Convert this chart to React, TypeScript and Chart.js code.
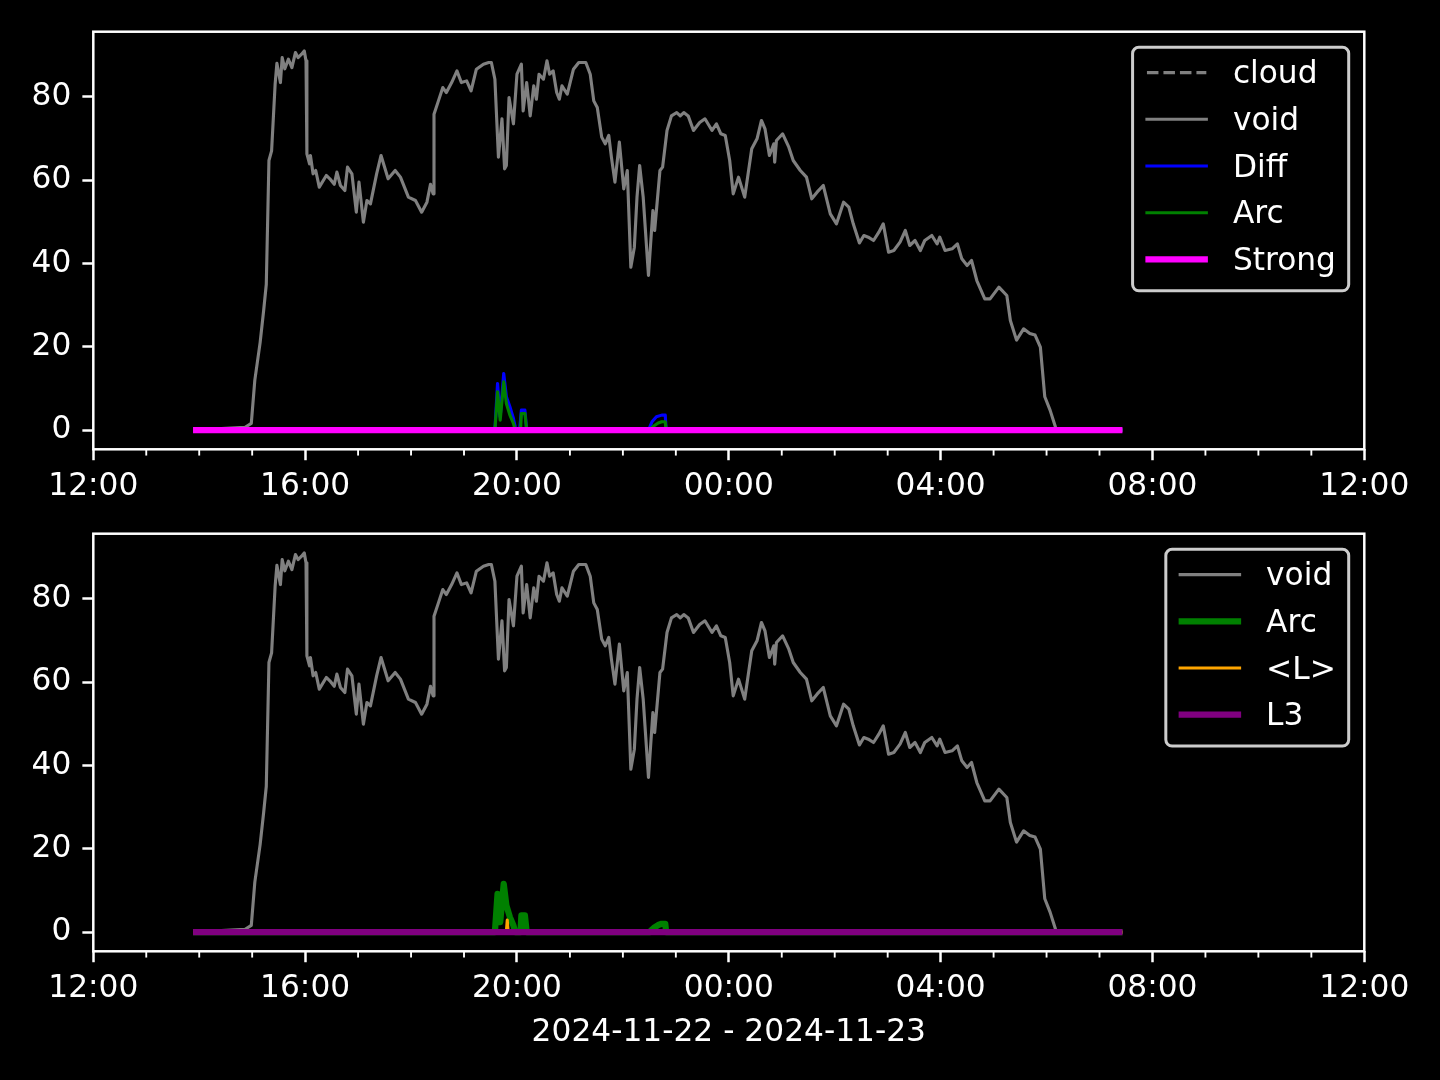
import React, { useEffect, useRef } from "react";
import { Chart, registerables } from "chart.js";

Chart.register(...registerables);

const FONT = "DejaVu Sans";
const FS = 31.25;

// ---------- data ----------
const voidTimes = [
  "13:53","14:52","14:59","15:03","15:09","15:13","15:16","15:19","15:22","15:26",
  "15:28","15:32","15:34","15:37","15:41","15:45","15:49","15:52","15:56","15:59",
  "16:01","16:02","16:05","16:06","16:09","16:12","16:16","16:24","16:28","16:33",
  "16:36","16:40","16:45","16:48","16:53","16:58","17:01","17:06","17:10","17:14",
  "17:21","17:26","17:34","17:42","17:48","17:57","18:05","18:12","18:18","18:22",
  "18:25","18:26","18:31","18:36","18:40","18:46","18:52","18:57","19:03","19:08",
  "19:14","19:22","19:28","19:31","19:35","19:39","19:43","19:46","19:48","19:51",
  "19:56","20:00","20:05","20:07","20:11","20:15","20:19","20:22","20:25","20:30",
  "20:34","20:37","20:41","20:45","20:48","20:51","20:57","21:04","21:10","21:18",
  "21:23","21:27","21:31","21:36","21:40","21:44","21:47","21:51","21:56","22:01",
  "22:05","22:09","22:13","22:16","22:19","22:23","22:29","22:34","22:36","22:42",
  "22:45","22:50","22:55","23:01","23:05","23:09","23:14","23:20","23:27","23:33",
  "23:41","23:46","23:51","23:56","00:01","00:05","00:11","00:18","00:26","00:32",
  "00:37","00:41","00:46","00:51","00:52","00:54","01:01","01:08","01:13","01:21",
  "01:28","01:34","01:40","01:47","01:55","02:02","02:10","02:16","02:21","02:28",
  "02:33","02:38","02:44","02:50","02:55","03:01","03:07","03:14","03:20","03:25",
  "03:31","03:37","03:42","03:50","03:56","03:59","04:05","04:13","04:19","04:24",
  "04:30","04:35","04:41","04:50","04:56","05:06","05:15","05:19","05:26","05:34",
  "05:41","05:47","05:53","05:58","06:04","06:10","06:11","07:26",
];
const voidValues = [
  0, 0.7, 1.6, 12, 21, 28.7, 35, 64.7, 67, 83,
  88, 83.4, 89.4, 86.7, 89, 87, 90.6, 89.4, 90.2, 91,
  88.6, 66.3, 63.9, 65.9, 61.5, 62.3, 58.3, 61.1, 60.3, 59,
  61.9, 58.7, 57.5, 63.1, 61.5, 52.3, 59.5, 49.9, 55.1, 54.3,
  61.5, 65.9, 60.3, 62.3, 60.7, 55.9, 55.1, 52.3, 54.7, 59,
  56.7, 75.8, 79, 82.2, 81, 83.4, 86.2, 83.4, 83.8, 81.4,
  86.6, 87.8, 88.2, 88.2, 84.2, 65.5, 74.7, 62.7, 63.5, 79.8,
  73.5, 85.4, 87.8, 76.6, 83.4, 75.4, 82.6, 79.4, 85.4, 84.2,
  88.6, 85.4, 86.2, 81, 79.4, 82.6, 80.6, 86.6, 88.2, 88.2,
  85.4, 79, 77.4, 70.3, 68.7, 70.7, 65.5, 59.5, 69.1, 57.9,
  62.3, 39.1, 43.9, 55.9, 63.5, 55.9, 37.1, 52.7, 47.9, 62.3,
  63.1, 71.9, 75.4, 76.2, 75.4, 76.2, 75.4, 71.9, 73.8, 74.7,
  71.9, 73.5, 71.1, 70.7, 64.7, 56.7, 60.7, 55.9, 67.5, 69.9,
  74.3, 72.3, 65.9, 68.7, 64.3, 69.5, 71.1, 67.9, 64.7, 62.3,
  60.7, 55.5, 57.1, 58.7, 51.9, 49.5, 54.7, 53.5, 49.5, 44.9,
  46.7, 46.3, 45.5, 47.5, 49.5, 42.7, 43.1, 45.1, 47.9, 44.3,
  45.5, 43.1, 45.5, 46.7, 44.7, 46.3, 43.1, 43.5, 44.7, 41.1,
  39.5, 40.7, 35.9, 31.5, 31.5, 34.3, 32.3, 26.3, 21.6, 24.3,
  23.2, 22.8, 19.9, 8, 4.8, 0.8, 0, 0,
];

const diffTimes = ["13:53","19:35","19:38","19:41","19:45","19:48","19:52","19:56","19:58","19:59","20:03","20:05","20:09","20:11","22:29","22:33","22:38","22:44","22:48","22:49","07:26"];
const diffValues = [0, 0, 11.2, 3.2, 13.6, 8, 5.6, 2.8, 0.8, 0, 0, 4.8, 4.8, 0, 0, 2, 3.2, 3.6, 3.6, 0, 0];

const arcTimes = ["13:53","19:35","19:38","19:41","19:45","19:48","19:52","19:56","19:58","20:04","20:05","20:09","20:11","22:30","22:35","22:40","22:44","22:48","22:49","07:26"];
const arcValues = [0, 0, 9.2, 2.4, 11.6, 6.4, 3.6, 1.6, 0, 0, 4, 4, 0, 0, 1, 1.7, 2, 2, 0, 0];

const lTimes = ["13:53","19:48","19:49","19:50","07:26"];
const lValues = [0, 0, 2.9, 0, 0];

const strongTimes = ["13:53","07:26"];
const strongValues = [0, 0];

const l3Times = ["13:53","07:26"];
const l3Values = [0, 0];

const cloudTimes: string[] = [];
const cloudValues: number[] = [];

const yTickValues = [0, 20, 40, 60, 80];
const xLabel = "2024-11-22 - 2024-11-23";

// ---------- helpers ----------
function toHours(t: string) {
  const [h, m] = t.split(":").map(Number);
  return (h >= 12 ? h - 12 : h + 12) + m / 60;
}
function pts(times: string[], values: number[]) {
  return times.map((t, i) => ({ x: toHours(t), y: values[i] }));
}
function fmtTick(v: number) {
  const h = (12 + Math.round(v)) % 24;
  return (h < 10 ? "0" : "") + h + ":00";
}

const mplPlugin = {
  id: "mplDecor",
  afterDraw(chart: any) {
    const ctx = chart.ctx;
    const { left, right, top, bottom } = chart.chartArea;
    const xs = chart.scales.x;
    ctx.save();
    // minor ticks
    ctx.strokeStyle = "#ffffff";
    ctx.lineWidth = 1.875;
    for (let h = 0; h <= 24; h++) {
      if (h % 4 === 0) continue;
      const px = xs.getPixelForValue(h);
      ctx.beginPath();
      ctx.moveTo(px, bottom);
      ctx.lineTo(px, bottom + 6.25);
      ctx.stroke();
    }
    // spines
    ctx.lineWidth = 2.5;
    ctx.strokeRect(left, top, right - left, bottom - top);

    // legend
    const ds = chart.data.datasets;
    ctx.font = `${FS}px "${FONT}"`;
    const pad = 12.8;
    const handleLen = 62.5;
    const textPad = 25;
    const rowH = 31.1;
    const spacing = 15.6;
    let maxW = 0;
    ds.forEach((d: any) => {
      maxW = Math.max(maxW, ctx.measureText(d.label).width);
    });
    const w = pad * 2 + handleLen + textPad + maxW;
    const h = pad * 2 + ds.length * rowH + (ds.length - 1) * spacing;
    const bx = right - 15.6 - w;
    const by = top + 15.6;
    const r = 6.25;
    ctx.beginPath();
    ctx.moveTo(bx + r, by);
    ctx.lineTo(bx + w - r, by);
    ctx.arcTo(bx + w, by, bx + w, by + r, r);
    ctx.lineTo(bx + w, by + h - r);
    ctx.arcTo(bx + w, by + h, bx + w - r, by + h, r);
    ctx.lineTo(bx + r, by + h);
    ctx.arcTo(bx, by + h, bx, by + h - r, r);
    ctx.lineTo(bx, by + r);
    ctx.arcTo(bx, by, bx + r, by, r);
    ctx.closePath();
    ctx.fillStyle = "rgba(0,0,0,0.8)";
    ctx.fill();
    ctx.strokeStyle = "rgba(255,255,255,0.8)";
    ctx.lineWidth = 3;
    ctx.stroke();

    ds.forEach((d: any, i: number) => {
      const rowTop = by + pad + i * (rowH + spacing);
      const ly = rowTop + 12.5;
      ctx.beginPath();
      ctx.strokeStyle = d.borderColor;
      ctx.lineWidth = d.borderWidth;
      ctx.setLineDash(d.borderDash || []);
      ctx.lineCap = d.borderDash && d.borderDash.length ? "butt" : "square";
      const hx0 = bx + pad + d.borderWidth / 2;
      const hx1 = bx + pad + handleLen - d.borderWidth / 2;
      ctx.moveTo(hx0, ly);
      ctx.lineTo(hx1, ly);
      ctx.stroke();
      ctx.setLineDash([]);
      ctx.fillStyle = "#ffffff";
      ctx.textBaseline = "alphabetic";
      ctx.textAlign = "left";
      ctx.fillText(d.label, bx + pad + handleLen + textPad, rowTop + 23.2);
    });
    ctx.restore();
  },
};

function lineDs(label: string, data: any[], color: string, width: number, order: number, dash?: number[]) {
  return {
    label,
    data,
    borderColor: color,
    backgroundColor: color,
    borderWidth: width,
    borderDash: dash || [],
    borderJoinStyle: "round",
    pointRadius: 0,
    pointHoverRadius: 0,
    tension: 0,
    fill: false,
    order,
  };
}

function makeOptions(topPad: number, xHeight: number, withTitle: boolean) {
  const tickFont = { family: FONT, size: FS };
  return {
    responsive: false,
    animation: false,
    events: [],
    devicePixelRatio: 1,
    layout: { padding: { top: topPad, right: 75.7, left: 0, bottom: 0 } },
    plugins: { legend: { display: false }, tooltip: { enabled: false }, title: { display: false } },
    scales: {
      x: {
        type: "linear",
        min: 0,
        max: 24,
        afterFit: (s: any) => { s.height = xHeight; },
        grid: { drawOnChartArea: false, drawTicks: true, tickLength: 10.94, tickColor: "#ffffff", tickWidth: 2.5 },
        border: { display: false },
        ticks: {
          stepSize: 4,
          autoSkip: false,
          maxRotation: 0,
          minRotation: 0,
          includeBounds: false,
          padding: 8,
          color: "#ffffff",
          font: tickFont,
          callback: (v: any) => fmtTick(Number(v)),
        },
        title: withTitle
          ? { display: true, text: xLabel, color: "#ffffff", font: tickFont, padding: { top: 0, bottom: 28 } }
          : { display: false },
      },
      y: {
        type: "linear",
        min: -4.6,
        max: 95.6,
        afterFit: (s: any) => { s.width = 93.3; },
        afterBuildTicks: (s: any) => { s.ticks = yTickValues.map((v) => ({ value: v })); },
        grid: { drawOnChartArea: false, drawTicks: true, tickLength: 10.94, tickColor: "#ffffff", tickWidth: 2.5 },
        border: { display: false },
        ticks: {
          includeBounds: false,
          padding: 11,
          color: "#ffffff",
          font: tickFont,
          callback: (v: any) => String(v),
        },
      },
    },
  };
}

export default function App() {
  const topRef = useRef<HTMLCanvasElement>(null);
  const botRef = useRef<HTMLCanvasElement>(null);

  useEffect(() => {
    const c1 = new Chart(topRef.current as HTMLCanvasElement, {
      type: "line",
      data: {
        datasets: [
          lineDs("cloud", pts(cloudTimes, cloudValues), "#808080", 3.125, 5, [11.5, 5]),
          lineDs("void", pts(voidTimes, voidValues), "#808080", 3.125, 4),
          lineDs("Diff", pts(diffTimes, diffValues), "#0000ff", 3.125, 3),
          lineDs("Arc", pts(arcTimes, arcValues), "#008000", 3.125, 2),
          lineDs("Strong", pts(strongTimes, strongValues), "#ff00ff", 6.25, 1),
        ] as any,
      },
      options: makeOptions(31.7, 50.7, false) as any,
      plugins: [mplPlugin],
    });
    const c2 = new Chart(botRef.current as HTMLCanvasElement, {
      type: "line",
      data: {
        datasets: [
          lineDs("void", pts(voidTimes, voidValues), "#808080", 3.125, 4),
          lineDs("Arc", pts(arcTimes, arcValues), "#008000", 6.25, 3),
          lineDs("<L>", pts(lTimes, lValues), "#ffa500", 3.125, 2),
          lineDs("L3", pts(l3Times, l3Values), "#800080", 6.25, 1),
        ] as any,
      },
      options: makeOptions(33.7, 128.7, true) as any,
      plugins: [mplPlugin],
    });
    return () => {
      c1.destroy();
      c2.destroy();
    };
  }, []);

  return (
    <div style={{ position: "absolute", left: 0, top: 0, width: 1440, height: 1080, background: "#000000", overflow: "hidden" }}>
      <canvas ref={topRef} width={1440} height={500} style={{ position: "absolute", left: 0, top: 0, width: 1440, height: 500 }} />
      <canvas ref={botRef} width={1440} height={580} style={{ position: "absolute", left: 0, top: 500, width: 1440, height: 580 }} />
    </div>
  );
}
